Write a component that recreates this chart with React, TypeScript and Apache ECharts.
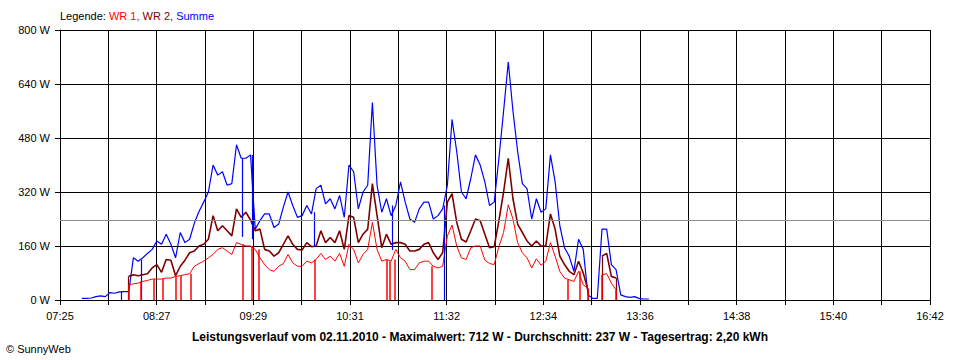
import React, { useEffect, useRef } from "react";
import * as echarts from "echarts";

// Axis range and tick labels
const AXIS_START = "07:25";
const AXIS_END = "16:42";
const X_TICK_LABELS = ["07:25", "08:27", "09:29", "10:31", "11:32", "12:34", "13:36", "14:38", "15:40", "16:42"];
const X_DIVISIONS = 18;
const Y_MAX = 800;
const Y_INTERVAL = 160;
const AVERAGE = 237;

// Samples every 3 minutes starting 07:39
const SAMPLE_START = "07:39";
const SAMPLE_STEP = 3;

const SUMME = [
  5, 5, 6, 10, 12, 10, 22, 20, 24, 25, 25,
  125, 115, 125, 138, 150, 175, 165, 195, 165, 125,
  200, 170, 180, 228, 262, 290, 320, 400, 370, 380,
  340, 345, 460, 420, 420, 430, 210, 235, 255, 255,
  215, 225, 275, 320, 280, 245, 250, 280, 255, 330,
  340, 285, 300, 270, 310, 245, 400, 380, 270, 320,
  340, 585, 340, 260, 300, 250, 280, 350, 290, 240,
  230, 270, 290, 290, 240, 250, 270, 340, 535, 440,
  320, 300, 360, 430, 400, 350, 280, 290, 420, 560,
  705, 560, 440, 345, 330, 240, 300, 260, 270, 430,
  350, 220, 155, 130, 85, 180, 150, 15, 5, 5,
  210, 210, 105, 90, 15, 10, 8, 10, 4, 3, 3,
];

const WR1 = [
  null, null, null, null, null, null, null, null, null, null, 45,
  48, 50, 55, 58, 62, 62, 62, 65, 65, 70,
  72, 75, 78, 100, 108, 115, 125, 135, 150, 155,
  145, 135, 170, 165, 160, 160, 150, 125, 105, 90,
  85, 100, 108, 135, 110, 100, 100, 115, 110, 120,
  138, 120, 130, 115, 138, 100, 165, 150, 110, 135,
  150, 230, 150, 115, 120, 115, 150, 125, 115, 90,
  90, 110, 115, 115, 100, 95, 100, 190, 222, 160,
  125, 120, 155, 160, 160, 118, 108, 105, 158, 200,
  282, 240, 170, 140, 125, 95, 122, 103, 115, 170,
  130, 85, 65, 60, 55, 85, 45, 35, null, null,
  75, 78, 50, 30, null, null, null, null, null, null, null,
];

const WR2 = [
  null, null, null, null, null, null, null, null, null, null, 70,
  75, 72, 75, 78, 95, 105, 82, 120, 118, 72,
  100, 118, 140, 145, 160, 165, 180, 250, 205, 220,
  205, 190, 270, 245, 260, 237, 205, 210, 150, 145,
  130, 140, 165, 190, 165, 150, 148, 170, 158, 160,
  205, 170, 185, 170, 205, 150, 250, 245, 170, 195,
  210, 345, 250, 155, 195, 165, 170, 170, 165, 145,
  145, 150, 165, 170, 140, 120, 140, 290, 315, 230,
  180, 172, 205, 240, 235, 195, 155, 158, 235, 320,
  420, 300, 225, 200, 175, 160, 175, 160, 160, 255,
  210, 130, 105, 85, 75, 115, 80, 30, null, null,
  130, 138, 70, 65, null, null, null, null, null, null, null,
];

// Short drop-outs to zero (time, value at top)
const WR1_DROPS: [string, number][] = [
  ["08:09", 45], ["08:17", 55], ["08:25", 62], ["08:31", 62], ["08:39", 70], ["08:42", 72],
  ["08:49", 78], ["09:22", 165], ["09:28", 160], ["09:32", 150], ["10:08", 120], ["10:54", 120],
  ["10:56", 115], ["10:59", 120], ["11:23", 100], ["12:50", 60], ["12:58", 85], ["13:03", 35],
  ["13:12", 75], ["13:21", 30],
];
const WR2_DROPS: [string, number][] = [["08:09", 70], ["13:03", 30], ["13:12", 130], ["13:21", 65]];
// (time, from, to)
const SUMME_DROPS: [string, number, number][] = [
  ["08:04", 25, 0], ["08:17", 120, 0], ["09:22", 420, 187], ["09:28", 430, 180],
  ["10:08", 260, 158], ["10:58", 280, 148], ["11:31", 280, 0],
];

const TITLE = "Leistungsverlauf vom 02.11.2010 - Maximalwert: 712 W - Durchschnitt: 237 W - Tagesertrag: 2,20 kWh";
const COPYRIGHT = "© SunnyWeb";

const RED = "#ff0000";
const DARK_RED = "#800000";
const BLUE = "#0000ff";
const FONT = "'Liberation Sans', Arial, sans-serif";

const toMin = (s: string) => {
  const [h, m] = s.split(":").map(Number);
  return h * 60 + m;
};
const ORIGIN = toMin(AXIS_START);
const SPAN = toMin(AXIS_END) - ORIGIN;
const X_INT = SPAN / X_DIVISIONS;
const off = (s: string) => toMin(s) - ORIGIN;

const seriesData = (vals: (number | null)[]) => {
  const s0 = toMin(SAMPLE_START) - ORIGIN;
  return vals.map((v, i) => [s0 + i * SAMPLE_STEP, v]);
};

export default function App() {
  const ref = useRef<HTMLDivElement>(null);
  useEffect(() => {
    if (!ref.current) return;
    const chart = echarts.init(ref.current, null, { renderer: "svg" });
    const dropLines = (drops: [string, number][]) =>
      drops.map(([t, v]) => [{ coord: [off(t), v] }, { coord: [off(t), 0] }]);
    const markLineBase = {
      silent: true,
      symbol: ["none", "none"],
      label: { show: false },
      emphasis: { disabled: true },
      animation: false,
    };
    chart.setOption({
      animation: false,
      backgroundColor: "#ffffff",
      grid: { left: 60, right: 30, top: 30, bottom: 60, containLabel: false },
      xAxis: {
        type: "value",
        min: 0,
        max: SPAN,
        interval: X_INT,
        axisLine: { show: true, lineStyle: { color: "#000", width: 1 } },
        axisTick: { show: true, length: 5, inside: false, lineStyle: { color: "#000", width: 1 } },
        splitLine: { show: true, lineStyle: { color: "#000", width: 1 } },
        axisLabel: {
          color: "#000",
          fontSize: 11,
          fontFamily: FONT,
          margin: 10,
          showMinLabel: true,
          showMaxLabel: true,
          formatter: (v: number) => {
            const k = Math.round(v / X_INT);
            return k % 2 === 0 ? X_TICK_LABELS[k / 2] ?? "" : "";
          },
        },
      },
      yAxis: {
        type: "value",
        min: 0,
        max: Y_MAX,
        interval: Y_INTERVAL,
        axisLine: { show: true, lineStyle: { color: "#000", width: 1 } },
        axisTick: { show: true, length: 5, inside: false, lineStyle: { color: "#000", width: 1 } },
        splitLine: { show: true, lineStyle: { color: "#000", width: 1 } },
        axisLabel: { color: "#000", fontSize: 11, fontFamily: FONT, margin: 10, formatter: "{value} W" },
      },
      series: [
        {
          name: "Summe",
          type: "line",
          data: seriesData(SUMME),
          showSymbol: false,
          symbol: "none",
          lineStyle: { color: BLUE, width: 1.2 },
          itemStyle: { color: BLUE },
          emphasis: { disabled: true },
          markLine: {
            ...markLineBase,
            lineStyle: { color: BLUE, width: 1.2, type: "solid" },
            data: SUMME_DROPS.map(([t, a, b]) => [{ coord: [off(t), a] }, { coord: [off(t), b] }]),
          },
        },
        {
          name: "Durchschnitt",
          type: "line",
          data: [],
          markLine: {
            ...markLineBase,
            lineStyle: { color: "#8c8c8c", width: 1, type: "solid" },
            data: [{ yAxis: AVERAGE }],
          },
        },
        {
          name: "WR 2",
          type: "line",
          data: seriesData(WR2),
          showSymbol: false,
          symbol: "none",
          connectNulls: false,
          lineStyle: { color: DARK_RED, width: 1.6 },
          itemStyle: { color: DARK_RED },
          emphasis: { disabled: true },
          markLine: {
            ...markLineBase,
            lineStyle: { color: DARK_RED, width: 1.2, type: "solid" },
            data: dropLines(WR2_DROPS),
          },
        },
        {
          name: "WR 1",
          type: "line",
          data: seriesData(WR1),
          showSymbol: false,
          symbol: "none",
          connectNulls: false,
          lineStyle: { color: RED, width: 1 },
          itemStyle: { color: RED },
          emphasis: { disabled: true },
          markLine: {
            ...markLineBase,
            lineStyle: { color: RED, width: 1.5, type: "solid" },
            data: dropLines(WR1_DROPS),
          },
        },
      ],
      graphic: [
        {
          type: "text",
          left: 60,
          top: 10,
          style: {
            text: "{k|Legende: }{a|WR 1, }{b|WR 2, }{c|Summe}",
            rich: {
              k: { fill: "#000", fontSize: 11, fontFamily: FONT },
              a: { fill: RED, fontSize: 11, fontFamily: FONT },
              b: { fill: DARK_RED, fontSize: 11, fontFamily: FONT },
              c: { fill: BLUE, fontSize: 11, fontFamily: FONT },
            },
          },
        },
        {
          type: "text",
          x: 480,
          y: 337,
          style: {
            text: TITLE,
            fill: "#000",
            fontSize: 12,
            fontWeight: "bold",
            fontFamily: FONT,
            align: "center",
            verticalAlign: "middle",
          },
        },
        {
          type: "text",
          x: 6,
          y: 349,
          style: {
            text: COPYRIGHT,
            fill: "#000",
            fontSize: 11,
            fontFamily: FONT,
            align: "left",
            verticalAlign: "middle",
          },
        },
      ],
    });
    return () => chart.dispose();
  }, []);
  return (
    <div
      ref={ref}
      style={{ position: "fixed", left: 0, top: 0, width: 960, height: 360, background: "#fff" }}
    />
  );
}
